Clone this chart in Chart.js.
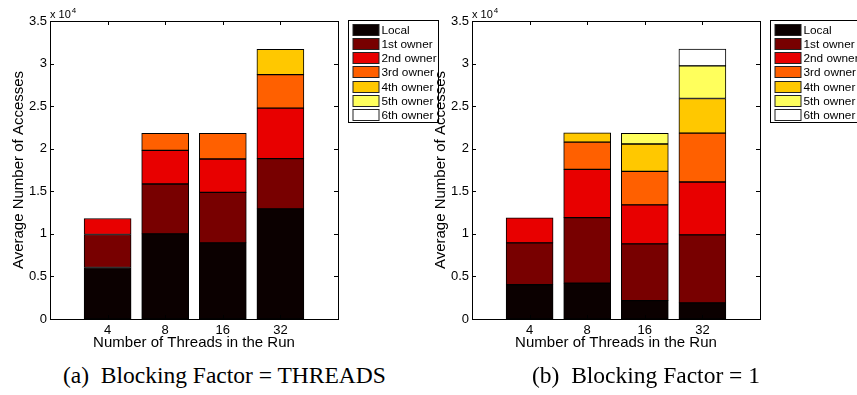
<!DOCTYPE html>
<html>
<head>
<meta charset="utf-8">
<script src="https://cdn.jsdelivr.net/npm/chart.js@4"></script>
<style>
  body { margin: 0; width: 857px; height: 395px; overflow: hidden; background: #fff; position: relative; }
  canvas { position: absolute; top: 0; }
  #chartA { left: 0; }
  #chartB { left: 422px; }
  .cap { position: absolute; top: 363px; font: 23.5px "Liberation Serif", "Times New Roman", serif; line-height: 24px; white-space: pre; color: #000; }
</style>
</head>
<body>
<canvas id="chartA" width="450" height="352"></canvas>
<canvas id="chartB" width="450" height="352"></canvas>
<div class="cap" style="left:63px">(a)  Blocking Factor = THREADS</div>
<div class="cap" style="left:532px">(b)  Blocking Factor = 1</div>
<script>
// thread counts on the x axis
const threads = ['4', '8', '16', '32'];
const owners = ['Local', '1st owner', '2nd owner', '3rd owner', '4th owner', '5th owner', '6th owner'];
const ownerColors = ['#0b0000', '#780000', '#e80000', '#ff6000', '#ffc800', '#ffff5c', '#ffffff'];
const yTicks = [0, 5000, 10000, 15000, 20000, 25000, 30000, 35000];

// (a) blocking factor = THREADS, accesses per owner
const localA  = [6050, 10000, 8950, 12930];
const firstA  = [3870, 5860, 5930, 5900];
const secondA = [1880, 3940, 3910, 5940];
const thirdA  = [null, 2000, 3010, 3940];
const fourthA = [null, null, null, 2970];
const fifthA  = [null, null, null, null];
const sixthA  = [null, null, null, null];

// (b) blocking factor = 1
const localB  = [4020, 4200, 2150, 1900];
const firstB  = [4930, 7700, 6680, 7980];
const secondB = [2920, 5680, 4570, 6210];
const thirdB  = [null, 3200, 3940, 5750];
const fourthB = [null, 1100, 3210, 4060];
const fifthB  = [null, null, 1250, 3830];
const sixthB  = [null, null, null, 1970];

Chart.defaults.font.family = '"Liberation Sans", Arial, sans-serif';
Chart.defaults.color = '#000';

// matlab style box, inward ticks, legend box and the x 10^4 label
const matlabBox = {
    id: 'matlabBox',
    afterDraw(chart) {
        const ctx = chart.ctx;
        const a = chart.chartArea;
        const x = chart.scales.x, y = chart.scales.y;
        ctx.save();
        ctx.strokeStyle = '#000';
        ctx.lineWidth = 1;
        ctx.strokeRect(a.left + 0.5, a.top + 0.5, a.right - a.left, a.bottom - a.top);
        ctx.beginPath();
        y.ticks.forEach(function(t) {
            let py = Math.round(y.getPixelForValue(t.value)) + 0.5;
            ctx.moveTo(a.left, py); ctx.lineTo(a.left + 4, py);
            ctx.moveTo(a.right, py); ctx.lineTo(a.right - 4, py);
        });
        x.ticks.forEach(function(t) {
            let px = Math.round(x.getPixelForValue(t.value)) + 0.5;
            ctx.moveTo(px, a.top); ctx.lineTo(px, a.top + 4);
            ctx.moveTo(px, a.bottom); ctx.lineTo(px, a.bottom - 4);
        });
        ctx.stroke();

        // exponent label
        ctx.fillStyle = '#000';
        ctx.textBaseline = 'alphabetic';
        ctx.textAlign = 'left';
        ctx.font = '11px "Liberation Sans", Arial, sans-serif';
        ctx.fillText('x 10', a.left, a.top - 3);
        let w = ctx.measureText('x 10').width;
        ctx.font = '8px "Liberation Sans", Arial, sans-serif';
        ctx.fillText('4', a.left + w + 1, a.top - 8);

        // legend
        let lx = a.right + 10.5, ly = a.top - 0.5;
        ctx.fillStyle = '#fff';
        ctx.fillRect(lx, ly, 90, 102);
        ctx.strokeRect(lx, ly, 90, 102);
        ctx.font = '11.8px "Liberation Sans", Arial, sans-serif';
        ctx.textBaseline = 'middle';
        chart.data.datasets.forEach(function(ds, i) {
            let sy = Math.round(ly + 3 + i * 14.33) + 0.5;
            ctx.fillStyle = ds.backgroundColor;
            ctx.fillRect(lx + 4.5, sy, 26, 11);
            ctx.strokeStyle = '#222';
            ctx.strokeRect(lx + 4.5, sy, 26, 11);
            ctx.fillStyle = '#000';
            ctx.fillText(ds.label, lx + 33, sy + 6);
        });
        ctx.restore();
    }
};

function makeChart(id, series) {
    return new Chart(document.getElementById(id), {
        type: 'bar',
        data: {
            datasets: series.map(function(vals, i) {
                return {
                    label: owners[i],
                    data: vals.map(function(v, j) { return { x: j + 1, y: v }; }),
                    backgroundColor: ownerColors[i],
                    borderColor: '#000',
                    borderWidth: 1,
                    borderSkipped: false,
                    barThickness: 47
                };
            })
        },
        options: {
            responsive: false,
            animation: false,
            layout: { padding: { left: 0, top: 21, right: 112, bottom: 0 } },
            plugins: { legend: { display: false }, tooltip: { enabled: false } },
            scales: {
                x: {
                    type: 'linear',
                    stacked: true,
                    offset: false,
                    min: 0,
                    max: 5,
                    afterBuildTicks: function(s) { s.ticks = threads.map(function(t, i) { return { value: i + 1 }; }); },
                    afterFit: function(s) { s.height = 33; },
                    ticks: {
                        padding: 4,
                        maxRotation: 0,
                        autoSkip: false,
                        font: { size: 13 },
                        callback: function(v) { return threads[v - 1]; }
                    },
                    grid: { display: false, drawTicks: false, offset: false },
                    border: { display: false },
                    title: { display: true, text: 'Number of Threads in the Run', font: { size: 15 }, padding: { top: 0, bottom: 0 } }
                },
                y: {
                    stacked: true,
                    min: 0,
                    max: 35000,
                    afterBuildTicks: function(s) { s.ticks = yTicks.map(function(v) { return { value: v }; }); },
                    afterFit: function(s) { s.width = 50; },
                    ticks: {
                        padding: 3,
                        font: { size: 13 },
                        callback: function(v) { return String(v / 10000); }
                    },
                    grid: { display: false, drawTicks: false },
                    border: { display: false },
                    title: { display: true, text: 'Average Number of Accesses', font: { size: 15 }, padding: { top: 10, bottom: 0 } }
                }
            }
        },
        plugins: [matlabBox]
    });
}

makeChart('chartA', [localA, firstA, secondA, thirdA, fourthA, fifthA, sixthA]);
makeChart('chartB', [localB, firstB, secondB, thirdB, fourthB, fifthB, sixthB]);
</script>
</body>
</html>
